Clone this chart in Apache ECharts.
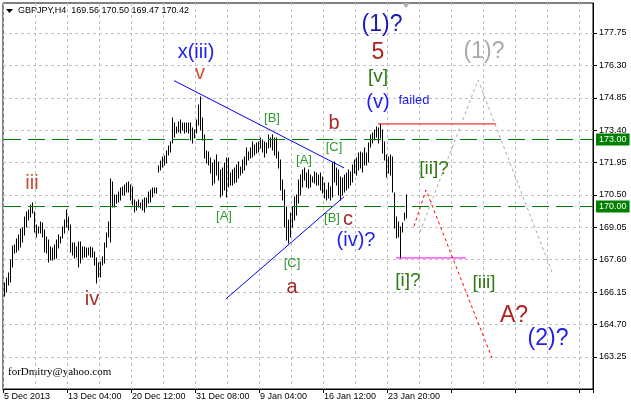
<!DOCTYPE html>
<html><head><meta charset="utf-8">
<script src="https://cdn.jsdelivr.net/npm/echarts@6/dist/echarts.min.js"></script>
<style>html,body{margin:0;padding:0;background:#fff}#c{width:631px;height:407px}</style>
</head><body><div id="c"></div>
<script>
// ---- data (GBPJPY H4 bars) ----
const symbolTitle = 'GBPJPY,H4';
const lastOHLC = [169.56, 170.50, 169.47, 170.42];
const highs = [
166.56,166.77,167.00,167.59,168.22,168.26,168.53,168.71,168.98,169.02,
169.51,169.74,169.83,170.05,170.14,169.74,169.16,169.07,169.29,169.25,
168.93,168.62,168.48,168.17,168.13,168.26,168.48,168.71,168.62,169.07,
169.38,169.83,169.51,169.16,168.35,168.35,168.17,168.39,168.39,168.17,
168.17,168.13,168.13,168.17,168.13,167.95,167.68,167.45,167.50,167.72,
168.35,168.80,169.29,171.21,171.08,170.50,170.50,170.63,170.81,170.86,
170.95,171.04,171.08,170.95,170.86,170.27,170.18,170.27,170.14,170.27,
170.36,170.36,170.63,170.72,170.81,170.81,170.81,171.80,172.02,172.20,
172.24,172.47,172.69,172.87,173.94,173.72,173.54,173.77,173.85,173.72,
173.72,173.72,173.72,173.72,173.50,173.41,173.85,174.53,174.88,173.94,
173.18,172.47,172.42,172.15,171.93,172.06,172.29,171.97,171.62,171.71,
171.93,172.15,172.15,171.48,171.62,171.71,171.84,171.97,171.75,172.06,
172.20,172.60,172.42,172.60,172.87,172.74,172.83,172.87,173.05,172.96,
172.87,172.83,173.18,173.05,173.18,173.05,173.05,172.42,172.06,171.17,
170.72,169.96,169.38,169.69,169.96,170.41,170.50,171.17,171.39,171.62,
171.71,171.48,171.62,171.39,171.30,171.53,171.48,171.39,171.48,171.30,
171.04,170.72,171.04,170.86,171.93,171.97,171.71,171.62,171.30,171.26,
171.39,171.48,171.62,171.53,171.84,172.06,172.15,172.38,172.42,172.38,
172.60,172.38,172.83,173.18,173.27,173.41,173.54,173.50,173.68,173.41,
172.87,172.29,172.20,172.29,172.20,170.59,169.51,169.29,169.07,169.25,
169.69,170.50];
const lows = [
165.98,166.16,166.47,166.60,167.28,167.90,167.95,168.04,168.17,168.39,
168.71,169.07,169.38,169.51,169.69,168.84,168.62,168.80,168.80,168.62,
167.95,167.90,167.50,167.59,167.59,167.63,167.68,168.13,168.35,168.57,
168.80,169.07,168.93,167.95,167.81,167.68,167.72,167.28,167.45,167.68,
167.72,167.72,167.81,167.72,167.72,167.36,166.56,166.83,166.83,167.36,
167.45,168.17,168.62,168.39,169.96,169.96,170.14,170.18,170.27,170.50,
170.50,170.63,170.63,170.27,170.05,169.74,169.83,169.96,169.92,169.83,
169.74,169.96,170.14,170.18,170.41,170.59,170.59,171.53,171.62,171.75,
171.84,171.93,172.29,172.42,172.83,173.09,173.27,173.32,173.27,173.41,
173.27,173.32,173.27,172.96,172.83,173.05,173.27,173.63,173.41,172.96,
172.15,171.93,171.84,171.48,170.95,171.04,171.39,171.17,170.41,170.50,
170.72,170.41,170.86,170.95,170.95,171.04,171.08,171.26,171.39,171.48,
171.62,171.84,172.06,172.15,172.20,172.29,172.38,172.42,172.60,172.42,
172.20,172.38,172.60,172.65,172.51,172.29,172.15,171.71,170.72,170.27,
169.07,168.48,168.35,168.62,169.07,169.38,169.60,170.14,170.50,170.86,
171.17,170.86,170.81,170.86,171.08,171.04,170.95,170.95,170.72,170.59,
170.36,170.27,170.36,170.27,170.41,171.08,170.95,170.50,170.27,170.50,
170.63,170.72,170.81,170.95,171.08,171.48,171.39,171.62,171.71,171.53,
171.84,171.84,171.97,172.65,172.83,172.96,173.09,172.83,173.05,172.38,
172.06,171.30,171.48,171.39,170.63,169.02,168.57,168.62,167.70,168.84,
169.38,169.47];
const totalSlots = 295;              // bars + empty future space on the time axis
const xTickLabels = ['5 Dec 2013','13 Dec 04:00','20 Dec 12:00','31 Dec 08:00','9 Jan 04:00','16 Jan 12:00','23 Jan 20:00'];
const xLabelStep = 32;
const yTickLabels = [163.25,164.70,166.15,167.60,169.05,170.50,171.95,173.40,174.85,176.30,177.75];
const priceLevels = [170.00, 173.00];
const yMin = 161.814, yMax = 179.093;

// drawn objects (bar index, price)
const triUpper = [[85,175.62],[170,171.71]];
const triLower = [[111,165.85],[170,170.42]];
const redLevel = [[187,173.68],[246,173.68]];
const magentaLevel = [[196,167.68],[231,167.68]];
const redPath = [[205,169.10],[211,170.72],[244,163.20]];
const grayPath = [[208,168.84],[237,175.65],[274,167.05]];

// wave labels: text, bar index, price, style
const waveLabels = [
 ['iii',14,171.03,'minor'],['iv',44,165.80,'minorD'],['x(iii)',96,176.90,'blue'],['v',98,175.96,'minor'],
 ['[B]',134,173.94,'grn'],['[A]',110,169.56,'grn'],['[A]',150,172.06,'grn'],['[C]',165,172.65,'grn'],
 ['[B]',164,169.47,'grn'],['[C]',144,167.45,'grn'],
 ['b',165,173.68,'abc'],['c',172,169.42,'abc'],['a',144,166.38,'abc'],
 ['(iv)?',176,168.48,'blue'],['(v)',187,174.66,'blue'],['failed',205,174.71,'blueS'],
 ['[v]',187,175.78,'dgrn'],['5',187,176.85,'big5'],['(1)?',189,178.11,'bigNavy'],
 ['(1)?',240,176.90,'bigGray'],['[ii]?',215,171.66,'dgrn'],['[i]?',202,166.65,'dgrn'],
 ['[iii]',240,166.56,'dgrn'],['A?',255,165.08,'big5'],['(2)?',272,164.05,'bigBlue']
];
</script>
<script>
const styles = {
  minor:{color:'#C8502D',fontSize:20}, minorD:{color:'#A0302A',fontSize:20},
  blue:{color:'#2222F0',fontSize:20}, blueS:{color:'#2222F0',fontSize:13},
  grn:{color:'#2E9A2E',fontSize:13}, abc:{color:'#A52A2A',fontSize:20},
  dgrn:{color:'#2E7A10',fontSize:19}, big5:{color:'#B22222',fontSize:23},
  bigNavy:{color:'#1C1CB0',fontSize:23}, bigGray:{color:'#A9A9A9',fontSize:23},
  bigBlue:{color:'#2020E8',fontSize:23}
};
const FONT = 'Liberation Sans, Arial, sans-serif';
const cats = Array.from({length: totalSlots}, (_, k) => String(k));
const labelAt = {};
xTickLabels.forEach((t, j) => { labelAt[j * xLabelStep] = t; });
const chart = echarts.init(document.getElementById('c'), null, {renderer: 'canvas'});
function lineSeries(data, color, dashed) {
  return {type:'line', data, symbol:'none', silent:true, z:5,
    lineStyle:{color, width:1, type: dashed ? [3,3] : 'solid'}};
}
chart.setOption({
  animation: false,
  backgroundColor: '#fff',
  grid: {left: 3, top: 3, width: 590, height: 386, show: true, borderColor: '#000', borderWidth: 1},
  xAxis: {
    type: 'category', data: cats, boundaryGap: true,
    axisLine: {lineStyle: {color: '#000'}},
    axisTick: {show: true, length: 4, interval: (i) => i % xLabelStep === 0, lineStyle: {color: '#000'}},
    axisLabel: {interval: (i) => i % xLabelStep === 0, formatter: (v, i) => labelAt[i] || '',
      align: 'left', margin: 3, fontSize: 9, color: '#000', fontFamily: FONT},
    splitLine: {show: true, interval: (i) => i % 16 === 0, lineStyle: {color: '#c0c0c0', type: [3,3]}}
  },
  yAxis: {
    type: 'value', position: 'right', min: yMin, max: yMax, scale: true,
    axisLine: {show: true, lineStyle: {color: '#000'}},
    axisTick: {show: true, length: 4, customValues: yTickLabels, lineStyle: {color: '#000'}},
    axisLabel: {customValues: yTickLabels, formatter: (v) => v.toFixed(2), margin: 6, fontSize: 9, color: '#000', fontFamily: FONT},
    splitLine: {show: true, lineStyle: {color: '#c0c0c0', type: [3,3]}}
  },
  graphic: [
    {type:'polygon', shape:{points:[[6,9],[13,9],[9.5,13]]}, style:{fill:'#000'}},
    {type:'text', left: 18, top: 6, style:{text: symbolTitle + '  ' + lastOHLC.map(v=>v.toFixed(2)).join(' '), font: '9px ' + FONT, fill:'#000'}},
    {type:'text', left: 8, top: 367, style:{text:'forDmitry@yahoo.com', font:'11px Liberation Serif, Times New Roman, serif', fill:'#000'}},
    {type:'polygon', shape:{points:[[402,3],[410,3],[406,8]]}, style:{fill:'#b0b0b0'}}
  ],
  series: [
    {
      type: 'custom', z: 3, silent: true,
      data: lows.map((l, i) => [i, l, highs[i]]),
      encode: {x: 0, y: [1, 2]},
      renderItem: (params, api) => {
        const k = api.value(0);
        const pLo = api.coord([k, api.value(1)]);
        const pHi = api.coord([k, api.value(2)]);
        const x = Math.round(pLo[0]) + 0.5;
        return {type: 'line', shape: {x1: x, y1: Math.round(pLo[1]) + 0.5, x2: x, y2: Math.round(pHi[1]) - 0.5},
          style: {stroke: '#000', lineWidth: 1}};
      }
    },
    {
      type: 'custom', z: 10, silent: true,
      data: priceLevels.map(v => [0, v]),
      encode: {x: 0, y: 1},
      renderItem: (params, api) => {
        const cs = params.coordSys;
        const y = Math.round(api.coord([0, api.value(1)])[1]) + 0.5;
        return {type: 'group', children: [
          {type: 'line', z2: 10, shape: {x1: cs.x + 1, y1: y, x2: cs.x + cs.width, y2: y},
            style: {stroke: '#008000', lineWidth: 1, lineDash: [17, 7], opacity: 1}},
          {type: 'text', x: cs.x + cs.width + 3, y: y,
            style: {text: api.value(1).toFixed(2), fill: '#fff', backgroundColor: '#008000',
              padding: [2, 3, 1, 3], font: '9px ' + FONT, verticalAlign: 'middle', align: 'left'}}
        ]};
      }
    },
    lineSeries(triUpper, '#0000FF'),
    lineSeries(triLower, '#0000FF'),
    lineSeries(redLevel, '#FF0000'),
    lineSeries(magentaLevel, '#FF00FF'),
    lineSeries(redPath, '#FF0000', true),
    lineSeries(grayPath, '#A9A9A9', true),
    {
      type: 'scatter', z: 6, silent: true, symbolSize: 1, itemStyle: {color: 'rgba(0,0,0,0)', opacity: 1},
      data: waveLabels.map(([t, k, p, s]) => ({value: [k, p],
        label: {show: true, position: 'inside', formatter: t, color: styles[s].color, opacity: 1,
          fontSize: styles[s].fontSize, fontFamily: FONT}}))
    }
  ]
});
</script>
</body></html>
